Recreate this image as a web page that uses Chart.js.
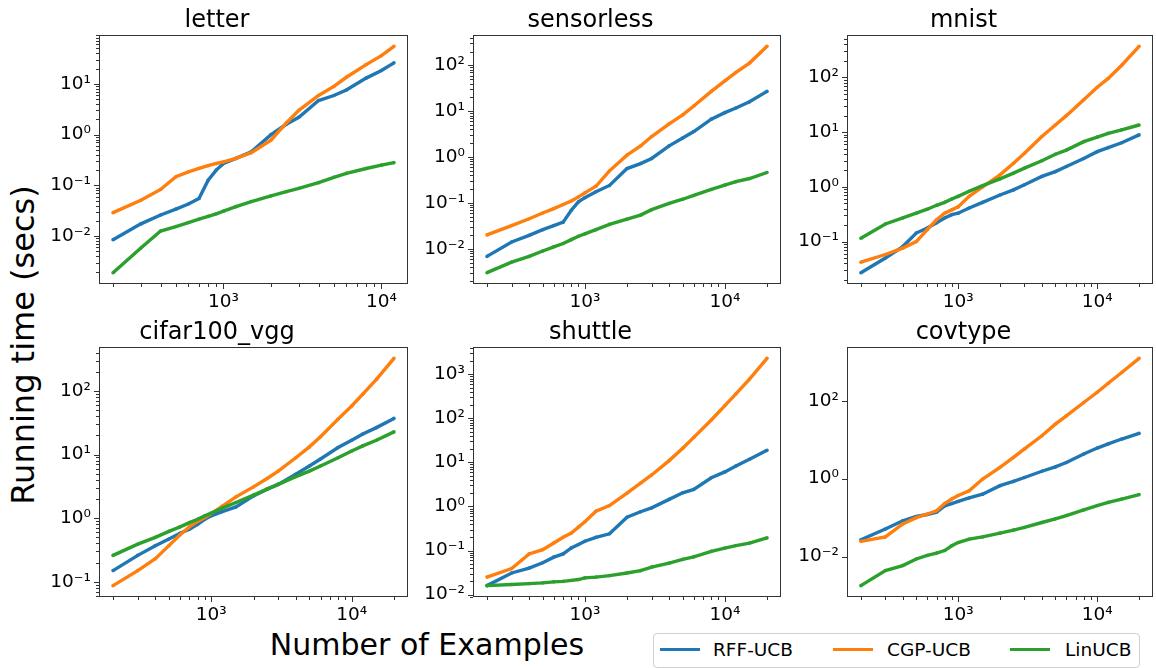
<!DOCTYPE html>
<html>
<head>
<meta charset="utf-8">
<script src="https://cdn.jsdelivr.net/npm/chart.js@4.4.1/dist/chart.umd.min.js"></script>
<style>
  body { margin: 0; width: 1156px; height: 668px; overflow: hidden; position: relative; background: #fff; font-family: "DejaVu Sans", sans-serif; color: #000; }
  canvas { position: absolute; }
  .axis-title { position: absolute; line-height: 1; white-space: nowrap; transform: translate(-50%, -50%); }
  #ylab { font-size: 32px; transform: translate(-50%, -50%) rotate(-90deg); }
  #xlab { font-size: 30px; }
  #legend { position: absolute; left: 653px; top: 633px; width: 485px; height: 33px; border: 1px solid #d0d0d0; border-radius: 4px; background: #fff; }
  #legend .sw { position: absolute; top: 14px; width: 40px; height: 3px; }
  #legend .tx { position: absolute; top: 5px; font-size: 18.5px; line-height: 22px; }
</style>
</head>
<body>
<div class="axis-title" id="ylab" style="left:23px;top:345px">Running time (secs)</div>
<div class="axis-title" id="xlab" style="left:427px;top:645px">Number of Examples</div>
<div id="legend"></div>

<script>
// number of examples seen (x values)
const examples = [200, 300, 400, 500, 600, 700, 800, 900, 1000, 1200, 1500, 2000, 2500, 3000, 4000, 5000, 6000, 8000, 10000, 12000, 15000, 20000];

// running time in seconds
const letterRff = [0.0085, 0.0174, 0.026, 0.034, 0.043, 0.055, 0.126, 0.20, 0.27, 0.34, 0.46, 1.0, 1.6, 2.2, 4.7, 5.9, 7.6, 13, 18.3, 26];
const letterCgp = [0.029, 0.051, 0.083, 0.148, 0.185, 0.215, 0.245, 0.27, 0.29, 0.34, 0.44, 0.78, 1.7, 3.0, 5.9, 8.9, 13.5, 24, 36, 55];
const letterLin = [0.0019, 0.0058, 0.0126, 0.0154, 0.0185, 0.0215, 0.0245, 0.0275, 0.031, 0.038, 0.048, 0.062, 0.075, 0.087, 0.113, 0.144, 0.172, 0.215, 0.25, 0.28];

const sensorlessRff = [0.0068, 0.014, 0.0196, 0.026, 0.032, 0.038, 0.069, 0.105, 0.13, 0.175, 0.24, 0.56, 0.72, 0.93, 1.75, 2.6, 3.6, 6.7, 9.3, 11.7, 16, 27];
const sensorlessCgp = [0.020, 0.032, 0.045, 0.060, 0.075, 0.092, 0.11, 0.135, 0.165, 0.23, 0.50, 1.1, 1.74, 2.8, 5.3, 8.3, 13, 27, 46, 70, 112, 260];
const sensorlessLin = [0.0030, 0.0051, 0.0068, 0.0089, 0.011, 0.013, 0.0158, 0.0187, 0.021, 0.026, 0.034, 0.044, 0.054, 0.071, 0.097, 0.12, 0.145, 0.196, 0.245, 0.29, 0.34, 0.46];

const mnistRff = [0.027, 0.050, 0.081, 0.143, 0.177, 0.22, 0.27, 0.31, 0.33, 0.41, 0.52, 0.71, 0.88, 1.09, 1.55, 1.9, 2.35, 3.3, 4.4, 5.2, 6.4, 8.9];
const mnistCgp = [0.042, 0.058, 0.076, 0.10, 0.165, 0.25, 0.33, 0.38, 0.43, 0.67, 1.0, 1.66, 2.7, 4.1, 8.3, 13.5, 20, 39, 66, 96, 167, 370];
const mnistLin = [0.115, 0.21, 0.27, 0.33, 0.39, 0.46, 0.52, 0.60, 0.67, 0.83, 1.05, 1.4, 1.78, 2.2, 3.0, 3.95, 4.7, 6.7, 8.1, 9.5, 11, 13.5];

const cifarRff = [0.15, 0.26, 0.37, 0.47, 0.58, 0.67, 0.80, 0.96, 1.09, 1.27, 1.5, 2.24, 2.86, 3.4, 4.9, 6.6, 8.5, 12.9, 16.8, 21, 26.5, 37];
const cifarCgp = [0.087, 0.15, 0.23, 0.37, 0.55, 0.73, 0.89, 1.02, 1.18, 1.55, 2.16, 3.1, 4.2, 5.5, 8.9, 13.2, 19, 36, 58, 89, 152, 325];
const cifarLin = [0.26, 0.39, 0.50, 0.62, 0.73, 0.85, 0.96, 1.09, 1.2, 1.44, 1.76, 2.3, 2.86, 3.4, 4.5, 5.5, 6.6, 8.9, 11.4, 13.7, 16.8, 22.7];

const shuttleRff = [0.016, 0.031, 0.04, 0.053, 0.071, 0.084, 0.115, 0.137, 0.163, 0.2, 0.24, 0.57, 0.76, 0.93, 1.45, 2.05, 2.45, 4.5, 6.1, 8.3, 11.8, 18.8];
const shuttleCgp = [0.025, 0.039, 0.084, 0.105, 0.148, 0.2, 0.25, 0.34, 0.45, 0.78, 1.05, 2.0, 3.4, 5.2, 11, 21, 37, 92, 195, 360, 780, 2300];
const shuttleLin = [0.016, 0.017, 0.0178, 0.0185, 0.0195, 0.02, 0.021, 0.022, 0.024, 0.025, 0.027, 0.031, 0.035, 0.042, 0.052, 0.063, 0.072, 0.096, 0.114, 0.13, 0.148, 0.194];

const covtypeRff = [0.027, 0.051, 0.083, 0.107, 0.12, 0.137, 0.2, 0.23, 0.26, 0.32, 0.4, 0.66, 0.85, 1.07, 1.55, 2.0, 2.6, 4.3, 6.1, 7.8, 10.4, 14.5];
const covtypeCgp = [0.0245, 0.032, 0.069, 0.10, 0.124, 0.15, 0.23, 0.30, 0.37, 0.49, 0.98, 1.95, 3.5, 5.8, 12.6, 25, 41, 90, 165, 280, 530, 1220];
const covtypeLin = [0.0018, 0.0044, 0.0059, 0.0087, 0.0107, 0.0123, 0.0143, 0.019, 0.023, 0.028, 0.032, 0.04, 0.048, 0.056, 0.075, 0.093, 0.113, 0.158, 0.204, 0.246, 0.30, 0.39];

const panels = [
  { name: "letter", rff: letterRff, cgp: letterCgp, lin: letterLin },
  { name: "sensorless", rff: sensorlessRff, cgp: sensorlessCgp, lin: sensorlessLin },
  { name: "mnist", rff: mnistRff, cgp: mnistCgp, lin: mnistLin },
  { name: "cifar100_vgg", rff: cifarRff, cgp: cifarCgp, lin: cifarLin },
  { name: "shuttle", rff: shuttleRff, cgp: shuttleCgp, lin: shuttleLin },
  { name: "covtype", rff: covtypeRff, cgp: covtypeCgp, lin: covtypeLin },
];

const SERIES = [
  { key: "rff", label: "RFF-UCB", color: "#1f77b4", order: 2 },
  { key: "cgp", label: "CGP-UCB", color: "#ff7f0e", order: 1 },
  { key: "lin", label: "LinUCB", color: "#2ca02c", order: 0 },
];

//plot area of each panel: left, top, right, bottom
const boxes = [
  [99, 35, 410, 284], [473, 35, 783, 284], [847, 35, 1155, 284],
  [99, 347, 410, 597], [473, 347, 783, 597], [847, 347, 1155, 597],
];
const Y_AXIS_W = 75;
const X_AXIS_H = 30;
const TITLE_H = 34;
const RIGHT_PAD = 2;
const FONT = "DejaVu Sans";

const SUP = { "-": "\u207B", 0: "\u2070", 1: "\u00B9", 2: "\u00B2", 3: "\u00B3", 4: "\u2074", 5: "\u2075" };
const pow10Label = (v) =>
  "10" + String(Math.round(Math.log10(v))).split("").map((c) => SUP[c]).join("");

// matplotlib-like autoscale: 5% margin in log space
const logRange = (values) => {
  const logs = values.map(Math.log10);
  const lo = Math.min(...logs);
  const hi = Math.max(...logs);
  const m = (hi - lo) * 0.05;
  return [Math.pow(10, lo - m), Math.pow(10, hi + m)];
};

const logTicks = (min, max, step, withMinor) => {
  const out = [];
  for (let e = Math.floor(Math.log10(min)); e <= Math.ceil(Math.log10(max)); e++) {
    for (let k = 1; k <= 9; k++) {
      const v = k * Math.pow(10, e);
      if (v < min || v > max) continue;
      const lab = k === 1 && e % step === 0;
      if (!lab && !withMinor) continue;
      out.push({ value: v, lab });
    }
  }
  return out;
};

// box around the plot + tick marks (major long, minor short)
const frameTicks = {
  id: "frameTicks",
  afterDraw(chart) {
    const { ctx, chartArea: a, scales } = chart;
    ctx.save();
    ctx.strokeStyle = "#333";
    ctx.lineWidth = 1;
    ctx.beginPath();
    scales.x.ticks.forEach((t) => {
      const px = Math.round(scales.x.getPixelForValue(t.value)) + 0.5;
      ctx.moveTo(px, a.bottom);
      ctx.lineTo(px, a.bottom + (t.lab ? 5 : 3));
    });
    scales.y.ticks.forEach((t) => {
      const py = Math.round(scales.y.getPixelForValue(t.value)) + 0.5;
      ctx.moveTo(a.left, py);
      ctx.lineTo(a.left - (t.lab ? 5 : 3), py);
    });
    ctx.stroke();
    ctx.strokeRect(Math.round(a.left) + 0.5, Math.round(a.top) + 0.5, Math.round(a.width) - 1, Math.round(a.height) - 1);
    ctx.restore();
  },
};

panels.forEach((p, i) => {
  const [l, t, r, b] = boxes[i];
  const w = r - l + Y_AXIS_W + RIGHT_PAD;
  const h = b - t + TITLE_H + X_AXIS_H;
  const canvas = document.createElement("canvas");
  canvas.width = w;
  canvas.height = h;
  canvas.style.left = l - Y_AXIS_W + "px";
  canvas.style.top = t - TITLE_H + "px";
  document.body.appendChild(canvas);

  const xs = examples.slice(0, p.rff.length);
  const [xMin, xMax] = logRange(xs);
  const [yMin, yMax] = logRange([...p.rff, ...p.cgp, ...p.lin]);
  const decades = Math.log10(yMax) - Math.log10(yMin);
  const yStep = decades > 6 ? 2 : 1;
  const xTicks = logTicks(xMin, xMax, 1, true);
  const yTicks = logTicks(yMin, yMax, yStep, yStep === 1);

  const tickFont = { family: FONT, size: 18.5 };

  new Chart(canvas.getContext("2d"), {
    type: "line",
    data: {
      datasets: SERIES.map((s) => ({
        label: s.label,
        data: xs.map((x, j) => ({ x, y: p[s.key][j] })),
        borderColor: s.color,
        backgroundColor: s.color,
        borderWidth: 3.4,
        pointRadius: 1.8,
        pointBorderWidth: 0,
        tension: 0,
        order: s.order,
      })),
    },
    options: {
      responsive: false,
      animation: false,
      devicePixelRatio: 1,
      layout: { padding: { left: 0, right: RIGHT_PAD, top: 0, bottom: 0 } },
      plugins: {
        legend: { display: false },
        tooltip: { enabled: false },
        title: {
          display: true,
          text: p.name,
          color: "#000",
          font: { family: FONT, size: 24, weight: "normal" },
          padding: { top: 5, bottom: 0.2 },
        },
      },
      scales: {
        x: {
          type: "logarithmic",
          min: xMin,
          max: xMax,
          afterBuildTicks: (scale) => { scale.ticks = xTicks.map((tk) => ({ ...tk })); },
          afterFit: (scale) => { scale.height = X_AXIS_H; },
          grid: { display: false, drawTicks: false },
          border: { display: false },
          ticks: {
            autoSkip: false,
            maxRotation: 0,
            padding: 7,
            color: "#000",
            font: tickFont,
            callback: (v, idx, ticks) => (ticks[idx].lab ? pow10Label(v) : ""),
          },
        },
        y: {
          type: "logarithmic",
          min: yMin,
          max: yMax,
          afterBuildTicks: (scale) => { scale.ticks = yTicks.map((tk) => ({ ...tk })); },
          afterFit: (scale) => { scale.width = Y_AXIS_W; },
          grid: { display: false, drawTicks: false },
          border: { display: false },
          ticks: {
            autoSkip: false,
            padding: 8,
            color: "#000",
            font: tickFont,
            callback: (v, idx, ticks) => (ticks[idx].lab ? pow10Label(v) : ""),
          },
        },
      },
    },
    plugins: [frameTicks],
  });
});

// shared legend in the lower right
const legend = document.getElementById("legend");
const legendPos = [[6, 59], [179, 233], [356, 411]];
SERIES.forEach((s, i) => {
  const sw = document.createElement("div");
  sw.className = "sw";
  sw.style.left = legendPos[i][0] + "px";
  sw.style.background = s.color;
  const tx = document.createElement("div");
  tx.className = "tx";
  tx.style.left = legendPos[i][1] + "px";
  tx.textContent = s.label;
  legend.appendChild(sw);
  legend.appendChild(tx);
});
</script>
</body>
</html>
